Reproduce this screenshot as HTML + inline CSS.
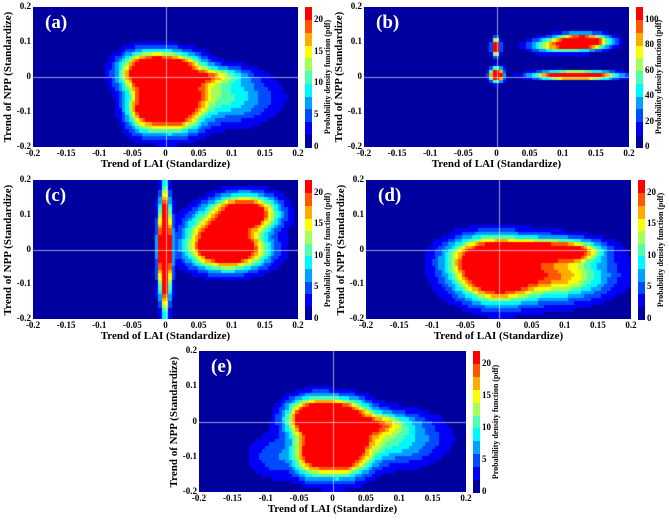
<!DOCTYPE html>
<html><head><meta charset="utf-8">
<style>
body{margin:0;background:#fff;width:669px;height:521px;overflow:hidden;position:relative;font-family:"Liberation Serif",serif;}
.abs{position:absolute}
.tick{position:absolute;font-size:9px;font-weight:bold;color:#000;white-space:nowrap}
.xl{position:absolute;font-size:11px;font-weight:bold;white-space:nowrap}
.yl{position:absolute;font-size:11px;font-weight:bold;white-space:nowrap;transform:rotate(-90deg);transform-origin:center;line-height:14px}
.cbl{position:absolute;font-size:8px;font-weight:bold;white-space:nowrap;transform:rotate(-90deg);transform-origin:center;line-height:10px}
.pl{position:absolute;font-size:19px;font-weight:bold;color:#fff}
</style></head><body>
<div id="root"></div>
<script>
const xTicks=[-0.2,-0.15,-0.1,-0.05,0,0.05,0.1,0.15,0.2];
const xTickLabels=["-0.2","-0.15","-0.1","-0.05","0","0.05","0.1","0.15","0.2"];
const yTicks=[-0.2,-0.1,0,0.1,0.2];
const yTickLabels=["-0.2","-0.1","0","0.1","0.2"];
// density components: [cx, cy, sx, sy, weight]
const compsA=[[-0.025,0.01,0.022,0.03,1],[0.01,-0.09,0.025,0.035,1],[0.01,0.02,0.025,0.025,0.8],[0.06,0.0,0.03,0.015,0.35],[0.09,-0.06,0.04,0.04,0.15],[-0.03,-0.09,0.015,0.035,0.5],[0.02,-0.04,0.03,0.03,0.5]];
const compsB=[[0.0,0.085,0.003,0.012,1.2],[0.001,0.005,0.005,0.01,1.4],[0.13,0.1,0.02,0.011,1.2],[0.095,0.09,0.022,0.011,0.4],[0.12,0.004,0.03,0.006,1.2]];
const compsC=[[0.0,0.0,0.005,0.07,1.6],[0.0,0.0,0.003,0.11,0.6],[0.095,0.0,0.03,0.03,1.1],[0.12,0.1,0.025,0.028,1.0],[0.08,0.05,0.025,0.035,0.5]];
const compsD=[[-0.01,-0.03,0.032,0.033,1],[0.06,-0.005,0.042,0.018,0.8],[0.11,-0.01,0.022,0.016,0.5],[0.0,-0.08,0.032,0.038,0.9],[0.09,-0.08,0.04,0.033,0.3],[0.05,-0.06,0.06,0.05,0.18]];
const compsE=[[-0.025,0.005,0.022,0.03,1],[0.01,-0.09,0.025,0.035,1],[0.01,0.015,0.025,0.025,0.8],[0.06,-0.01,0.03,0.017,0.35],[0.09,-0.05,0.04,0.04,0.15],[-0.03,-0.09,0.015,0.035,0.5],[0.02,-0.04,0.03,0.03,0.5],[-0.08,-0.1,0.025,0.035,0.06]];
const cbTicksA=[0,5,10,15,20], cbMaxA=22;
const cbTicksB=[0,20,40,60,80,100], cbMaxB=110;
const panels=[
 {id:"a",x:33,y:7,w:265,h:140,comps:compsA,thr:0.55,cbT:cbTicksA,cbM:cbMaxA},
 {id:"b",x:364,y:7,w:265,h:140,comps:compsB,thr:0.55,cbT:cbTicksB,cbM:cbMaxB},
 {id:"c",x:33,y:180,w:265,h:139,comps:compsC,thr:0.55,cbT:cbTicksA,cbM:cbMaxA},
 {id:"d",x:366,y:180,w:265,h:139,comps:compsD,thr:0.6,cbT:cbTicksA,cbM:cbMaxA},
 {id:"e",x:199,y:351,w:267,h:141,comps:compsE,thr:0.55,cbT:cbTicksA,cbM:cbMaxA}
];
const NX=80,NY=40,LEV=11;
function jet(t){
 const r=Math.min(Math.max(Math.min(4*t-1.5,-4*t+4.5),0),1);
 const g=Math.min(Math.max(Math.min(4*t-0.5,-4*t+3.5),0),1);
 const b=Math.min(Math.max(Math.min(4*t+0.5,-4*t+2.5),0),1);
 return `rgb(${Math.round(r*255)},${Math.round(g*255)},${Math.round(b*255)})`;
}
function levelColor(k){return jet(0.03+k/(LEV-1)*0.845);}
const root=document.getElementById('root');
function add(tag,cls,css,txt){const e=document.createElement(tag);if(cls)e.className=cls;Object.assign(e.style,css);if(txt!==undefined)e.textContent=txt;root.appendChild(e);return e;}
panels.forEach(p=>{
 const sx=v=>p.x+(v+0.2)/0.4*p.w;
 const sy=v=>p.y+(0.2-v)/0.4*p.h;
 const cv=add('canvas','abs',{left:p.x+'px',top:p.y+'px'});
 
 
 cv.width=p.w;cv.height=p.h;
 const c=cv.getContext('2d');
 for(let i=0;i<NX;i++)for(let j=0;j<NY;j++){
  const xv=-0.2+(i+0.5)*0.4/NX, yv=0.2-(j+0.5)*0.4/NY;
  let f=0;p.comps.forEach(q=>{f+=q[4]*Math.exp(-0.5*(((xv-q[0])/q[2])**2+((yv-q[1])/q[3])**2));});
  let t=Math.pow(Math.min(f/p.thr,1),0.6);
  let k=Math.min(LEV-1,Math.floor(t*LEV));
  c.fillStyle=levelColor(k);
  const x0=sx(xv-0.2/NX)-p.x,x1=sx(xv+0.2/NX)-p.x,y0=sy(yv+0.2/NY)-p.y,y1=sy(yv-0.2/NY)-p.y;
  c.fillRect(Math.floor(x0),Math.floor(y0),Math.ceil(x1-x0)+1,Math.ceil(y1-y0)+1);
 }
 c.fillStyle='rgba(255,255,255,0.6)';
 c.fillRect(Math.round(sx(0)-p.x),0,1,p.h);
 c.fillRect(0,Math.round(sy(0)-p.y),p.w,1);
 const pl=add('div','pl',{left:(p.x+12)+'px',top:(p.y+5)+'px'},'('+p.id+')');
 
 
 xTicks.forEach((v,i)=>{const e=add('div','tick',{left:(sx(v)-15)+'px',top:(p.y+p.h+1)+'px',width:'30px',textAlign:'center'},xTickLabels[i]);
  
  });
 yTicks.forEach((v,i)=>{const e=add('div','tick',{left:(p.x-32)+'px',top:(sy(v)-6)+'px',width:'30px',textAlign:'right'},yTickLabels[i]);
  
  });
 const xl=add('div','xl',{left:(p.x)+'px',top:(p.y+p.h+11)+'px',width:p.w+'px',textAlign:'center'},'Trend of LAI (Standardize)');
 
 
 const YW=170;
 const yl=add('div','yl',{left:(p.x-25-YW/2)+'px',top:(p.y+p.h/2-7)+'px',width:YW+'px',height:'14px',textAlign:'center'},'Trend of NPP (Standardize)');
 
 
 const cbx=p.x+p.w+7;
 for(let k=0;k<LEV;k++){
  const b=add('div','abs',{left:cbx+'px',top:(p.y+p.h-(k+1)*p.h/LEV)+'px',width:'7px',height:(p.h/LEV+0.6)+'px',background:levelColor(k)});
  
  
 }
 p.cbT.forEach(v=>{const e=add('div','tick',{left:(cbx+9)+'px',top:(p.y+p.h-v/p.cbM*p.h-6)+'px'},String(v));
  
  });
 const CW=150;
 const cl=add('div','cbl',{left:(cbx+23-CW/2)+'px',top:(p.y+p.h/2-5)+'px',width:CW+'px',height:'10px',textAlign:'center'},'Probability density function (pdf)');
 
 
});
</script>
</body></html>
